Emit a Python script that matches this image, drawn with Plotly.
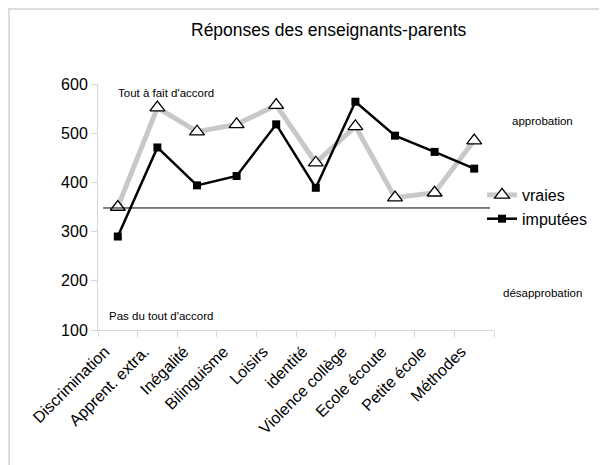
import plotly.graph_objects as go

categories = ["Discrimination", "Apprent. extra.", "Inégalité", "Bilinguisme", "Loisirs",
              "identité", "Violence collège", "Ecole écoute", "Petite école", "Méthodes"]
vraies = [350, 552, 503, 518, 557, 440, 514, 369, 379, 485]
imputees = [290, 471, 394, 413, 518, 389, 564, 495, 462, 428]
seuil = 348

FONT = "Liberation Sans, Arial, sans-serif"
OFF = 8  # page body margin
W, H = 607 - OFF, 465 - OFF
L, T = 98 - OFF, 84 - OFF
PW, PH = 396, 246
R, B = W - L - PW, H - T - PH

def fx(px):
    return (px - OFF - L) / PW

def fy(py):
    return 1 - (py - OFF - T) / PH

fig = go.Figure()
fig.add_trace(go.Scatter(
    x=categories, y=vraies, name="vraies", mode="lines+markers",
    line=dict(color="#c8c8c8", width=5),
    marker=dict(symbol="triangle-up", size=13, color="white",
                line=dict(color="black", width=1.3)),
))
fig.add_trace(go.Scatter(
    x=categories, y=imputees, name="imputées", mode="lines+markers",
    line=dict(color="black", width=2.5),
    marker=dict(symbol="square", size=8, color="black"),
))

fig.add_shape(type="line", xref="x", yref="y", x0=-0.37, x1=9.4, y0=seuil, y1=seuil,
              line=dict(color="black", width=1))
# frame
fig.add_shape(type="line", xref="paper", yref="paper", x0=fx(8), x1=fx(607), y0=fy(9), y1=fy(9),
              line=dict(color="#dcdcdc", width=2))
fig.add_shape(type="line", xref="paper", yref="paper", x0=fx(9), x1=fx(9), y0=fy(8), y1=fy(465),
              line=dict(color="#dcdcdc", width=2))

ann = [
    ("Tout à fait d'accord", fx(116), fy(93), "left"),
    ("Pas du tout d'accord", fx(107), fy(316), "left"),
    ("approbation", fx(542), fy(121), "center"),
    ("désapprobation", fx(542), fy(293), "center"),
]
for text, x, y, xa in ann:
    fig.add_annotation(text=text, x=x, y=y, xref="paper", yref="paper", xanchor=xa,
                       yanchor="middle", showarrow=False,
                       font=dict(size=11.5, color="#000000", family=FONT))

fig.update_layout(
    width=W, height=H,
    margin=dict(l=L, r=R, t=T, b=B, autoexpand=False),
    paper_bgcolor="white", plot_bgcolor="white",
    font=dict(family=FONT, color="black"),
    title=dict(text="Réponses des enseignants-parents", x=fx(310), xanchor="center",
               y=1 - (30 - OFF) / H, yanchor="middle", font=dict(size=17.5, family=FONT)),
    showlegend=True,
    legend=dict(x=fx(482), y=fy(178), xanchor="left", yanchor="top",
                font=dict(size=16, family=FONT), bgcolor="rgba(0,0,0,0)",
                itemwidth=30, tracegroupgap=0),
    xaxis=dict(type="category", range=[-0.5, 9.5], showgrid=False, showline=True,
               automargin=False,
               linecolor="#d8d8d8", linewidth=1, ticks="outside", tickson="boundaries",
               ticklen=6, tickcolor="#d8d8d8", tickangle=-45,
               ticklabelshift=-13, ticklabelstandoff=5,
               tickfont=dict(size=16, family=FONT, color="black")),
    yaxis=dict(range=[100, 600], tickvals=[100, 200, 300, 400, 500, 600], showgrid=False,
               automargin=False,
               showline=True, linecolor="#d8d8d8", linewidth=1, ticks="outside", ticklen=6,
               tickcolor="#d8d8d8", zeroline=False,
               tickfont=dict(size=16, family=FONT, color="black")),
)

fig.write_html("out.html")
